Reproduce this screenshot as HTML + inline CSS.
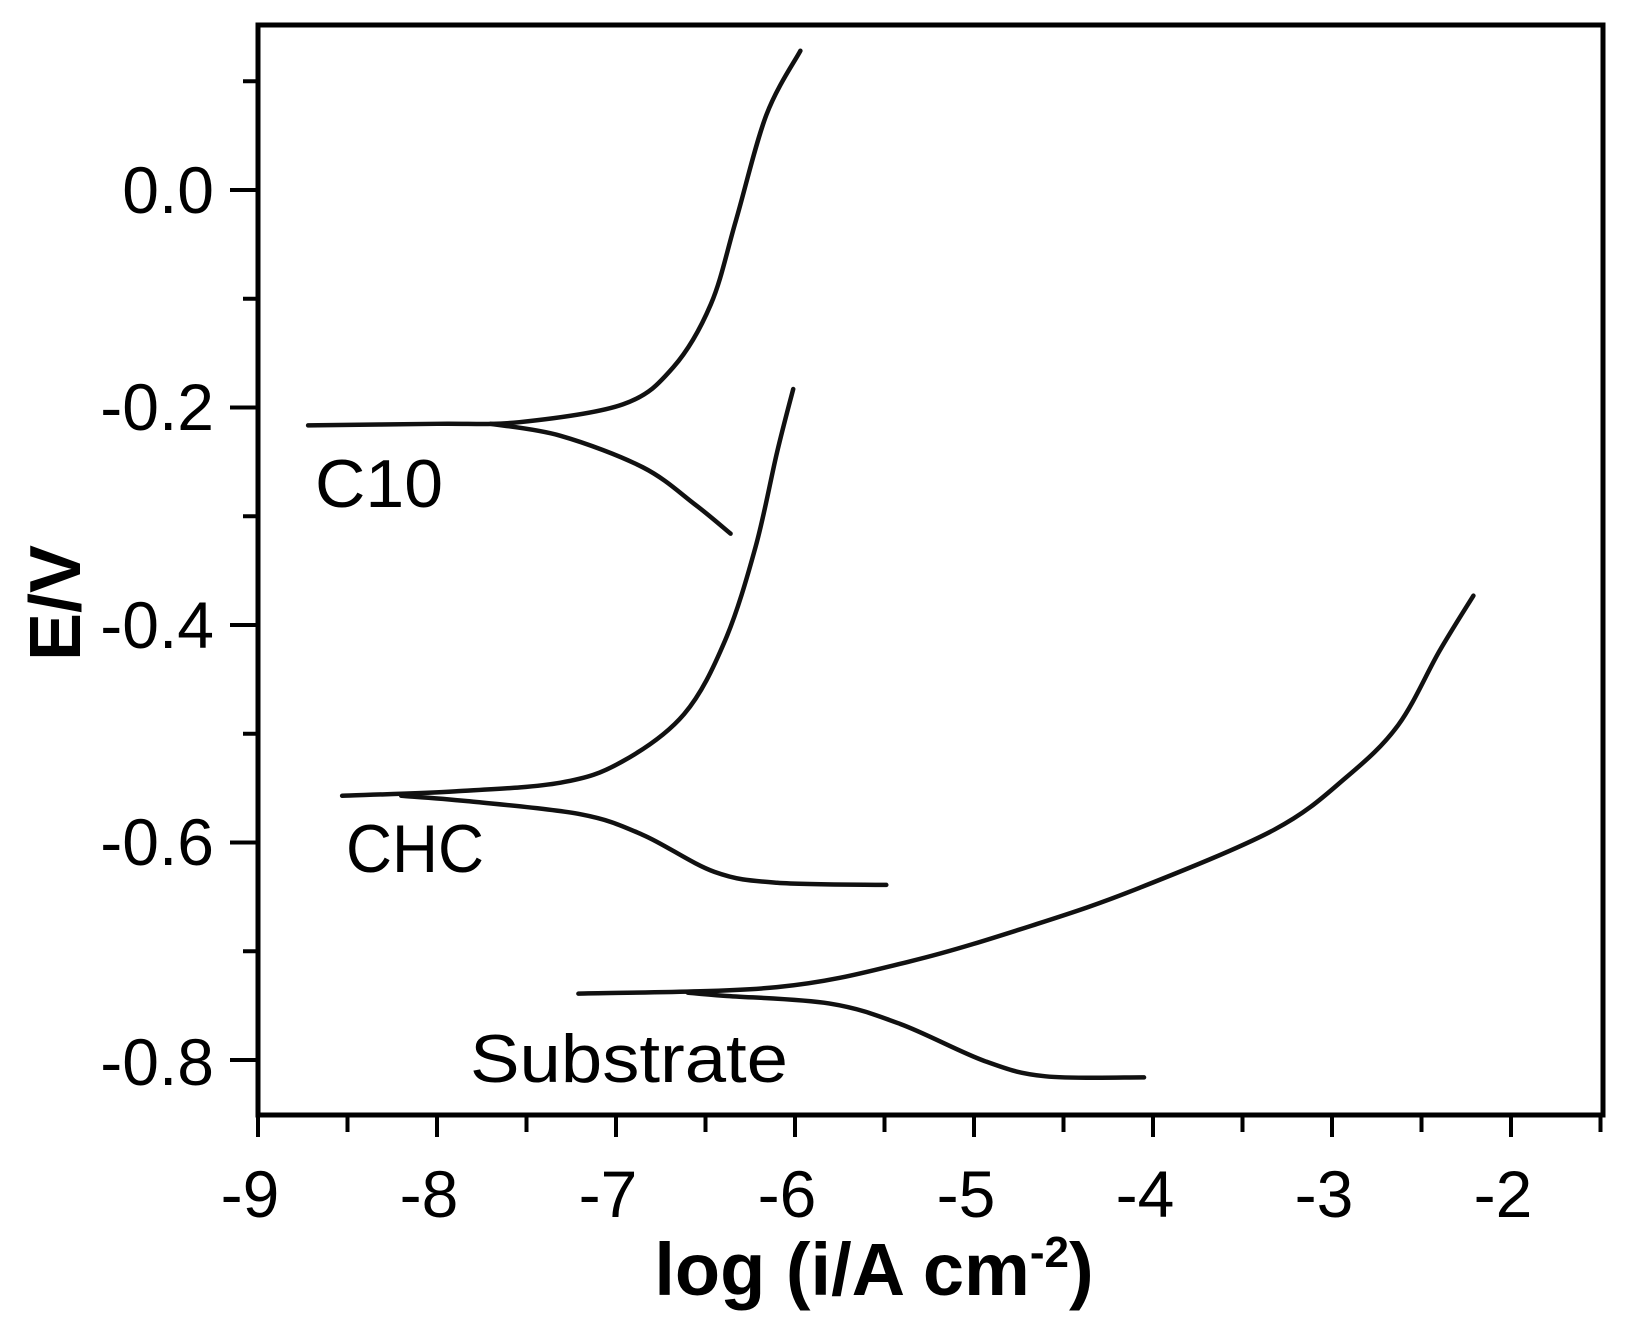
<!DOCTYPE html>
<html><head><meta charset="utf-8"><style>
html,body{margin:0;padding:0;background:#fff;}
svg{display:block;}
text{font-family:"Liberation Sans",sans-serif;fill:#000;}
</style></head><body>
<svg id="s" width="1637" height="1328" viewBox="0 0 1637 1328" xmlns="http://www.w3.org/2000/svg">
<rect x="258" y="25" width="1345" height="1090" fill="none" stroke="#000" stroke-width="5"/>
<g id="ticks" stroke="#000" stroke-width="4"></g>
<g font-size="66" text-anchor="end">
<text x="214" y="213">0.0</text>
<text x="214" y="430">-0.2</text>
<text x="214" y="648">-0.4</text>
<text x="214" y="865">-0.6</text>
<text x="214" y="1085">-0.8</text>
</g>
<g font-size="66" text-anchor="middle">
<text x="250" y="1217">-9</text>
<text x="429" y="1217">-8</text>
<text x="608" y="1217">-7</text>
<text x="787" y="1217">-6</text>
<text x="966" y="1217">-5</text>
<text x="1145" y="1217">-4</text>
<text x="1324" y="1217">-3</text>
<text x="1503" y="1217">-2</text>
</g>
<text x="874" y="1295" font-size="74" font-weight="bold" text-anchor="middle">log (i/A cm<tspan font-size="44" dy="-28">-2</tspan><tspan dy="28">)</tspan></text>
<text transform="translate(80,603) rotate(-90)" font-size="72" font-weight="bold" text-anchor="middle">E/V</text>
<g font-size="68">
<text x="315" y="507" textLength="128" lengthAdjust="spacingAndGlyphs">C10</text>
<text x="346" y="872" textLength="138" lengthAdjust="spacingAndGlyphs">CHC</text>
<text x="470" y="1082" textLength="318" lengthAdjust="spacingAndGlyphs">Substrate</text>
</g>
<g id="curves" fill="none" stroke="#111" stroke-width="4.5" stroke-linecap="round" stroke-linejoin="round"></g>
</svg>
<script>
var NS="http://www.w3.org/2000/svg";
function X(l){return 258+(l+9)*179;}
function Y(e){return 190-e*1087.5;}
var t=document.getElementById("ticks"),h="";
for(var i=0;i<=15;i++){var x=258+i*89.5;h+='<line x1="'+x+'" y1="1115" x2="'+x+'" y2="'+(i%2?1132:1137)+'"/>';}
for(var k=-8;k<=1;k++){var y=Y(k/10);h+='<line x1="'+(k%2?243:230)+'" y1="'+y+'" x2="258" y2="'+y+'"/>';}
t.innerHTML=h;
var D=[
[[-8.72,-0.2164],[-8.0,-0.215],[-7.54,-0.2135],[-6.96,-0.197],[-6.68,-0.163],[-6.47,-0.105],[-6.33,-0.028],[-6.16,0.069],[-5.97,0.128]],
[[-7.7,-0.215],[-7.31,-0.226],[-6.85,-0.255],[-6.56,-0.289],[-6.36,-0.316]],
[[-8.53,-0.557],[-7.9,-0.553],[-7.31,-0.545],[-6.97,-0.526],[-6.62,-0.482],[-6.39,-0.414],[-6.22,-0.328],[-6.10,-0.241],[-6.01,-0.183]],
[[-8.2,-0.557],[-7.83,-0.562],[-7.20,-0.574],[-6.85,-0.593],[-6.45,-0.627],[-6.10,-0.637],[-5.49,-0.639]],
[[-7.21,-0.739],[-6.10,-0.733],[-5.35,-0.709],[-4.65,-0.675],[-4.08,-0.642],[-3.32,-0.588],[-2.92,-0.540],[-2.63,-0.492],[-2.40,-0.424],[-2.21,-0.373]],
[[-6.6,-0.738],[-6.39,-0.741],[-5.81,-0.748],[-5.41,-0.767],[-4.94,-0.801],[-4.60,-0.815],[-4.05,-0.816]]
];
var g=document.getElementById("curves");
D.forEach(function(d){var p=d.map(function(q){return [X(q[0]),Y(q[1])];});
var s="M"+p[0][0]+","+p[0][1];
for(var i=0;i<p.length-1;i++){var p0=p[i-1]||p[i],p1=p[i],p2=p[i+1],p3=p[i+2]||p2;
s+=" C"+(p1[0]+(p2[0]-p0[0])/6)+","+(p1[1]+(p2[1]-p0[1])/6)+" "+(p2[0]-(p3[0]-p1[0])/6)+","+(p2[1]-(p3[1]-p1[1])/6)+" "+p2[0]+","+p2[1];}
var e=document.createElementNS(NS,"path");e.setAttribute("d",s);g.appendChild(e);});
</script>
</body></html>
